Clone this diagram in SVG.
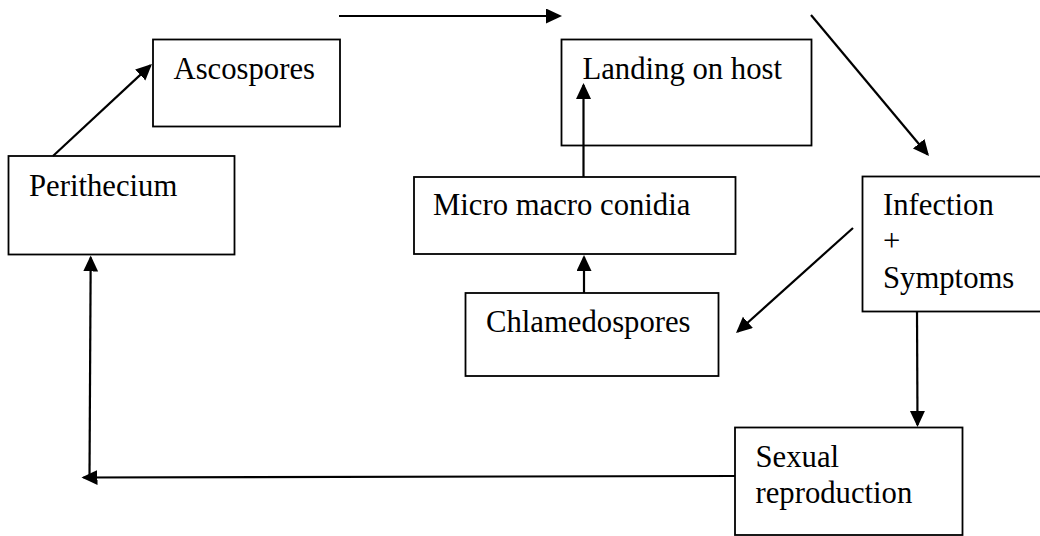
<svg xmlns="http://www.w3.org/2000/svg" width="1040" height="536" viewBox="0 0 1040 536">
<style>
.box{fill:#fff;stroke:#000;stroke-width:1.8}
.lbl{font-family:"Liberation Serif","Times New Roman",serif;font-size:30.7px;fill:#000}
.arr{fill:none;stroke:#000;stroke-width:2.2;marker-end:url(#ah)}
</style>
<defs>
<marker id="ah" markerUnits="userSpaceOnUse" markerWidth="17" markerHeight="16" refX="14" refY="7.5" orient="auto" viewBox="0 0 17 16">
<path d="M0,0 L16,7.5 L0,15 z" fill="#000"/>
</marker>
</defs>
<rect width="1040" height="536" fill="#fff"/>
<g id="ascospores"><rect class="box" x="153" y="39.5" width="187" height="87"/><text class="lbl" x="173.5" y="79">Ascospores</text></g>
<g id="landing"><rect class="box" x="561.5" y="39.5" width="250" height="106"/><text class="lbl" x="582.5" y="79">Landing on host</text></g>
<g id="perithecium"><rect class="box" x="8.5" y="156" width="226" height="98.5"/><text class="lbl" x="29" y="196">Perithecium</text></g>
<g id="micro"><rect class="box" x="414" y="177" width="321.5" height="77"/><text class="lbl" x="433" y="215">Micro macro conidia</text></g>
<g id="chlamedospores"><rect class="box" x="465.5" y="293" width="253" height="83"/><text class="lbl" x="486" y="331.5">Chlamedospores</text></g>
<g id="infection"><rect class="box" x="862.5" y="176.5" width="185" height="135"/><text class="lbl" x="883" y="215">Infection</text><text class="lbl" x="883" y="251">+</text><text class="lbl" x="883" y="287.5">Symptoms</text></g>
<g id="sexual"><rect class="box" x="735" y="427.5" width="227.5" height="107.5"/><text class="lbl" x="755.5" y="466.5">Sexual</text><text class="lbl" x="755.5" y="503">reproduction</text></g>
<g id="connectors">
<line class="arr" x1="53" y1="156" x2="150.5" y2="65.4"/>
<line class="arr" x1="339" y1="16" x2="560" y2="16"/>
<line class="arr" x1="811" y1="15" x2="927.7" y2="154.5"/>
<line class="arr" x1="583.5" y1="177" x2="583.5" y2="85"/>
<line class="arr" x1="584" y1="293" x2="584" y2="257"/>
<line class="arr" x1="853" y1="228" x2="737.5" y2="331.7"/>
<line class="arr" x1="917" y1="312" x2="917.5" y2="425"/>
<line class="arr" x1="735" y1="476" x2="83.5" y2="477.5"/>
<line class="arr" x1="89.5" y1="477" x2="90.7" y2="257.5"/>
</g>
</svg>
